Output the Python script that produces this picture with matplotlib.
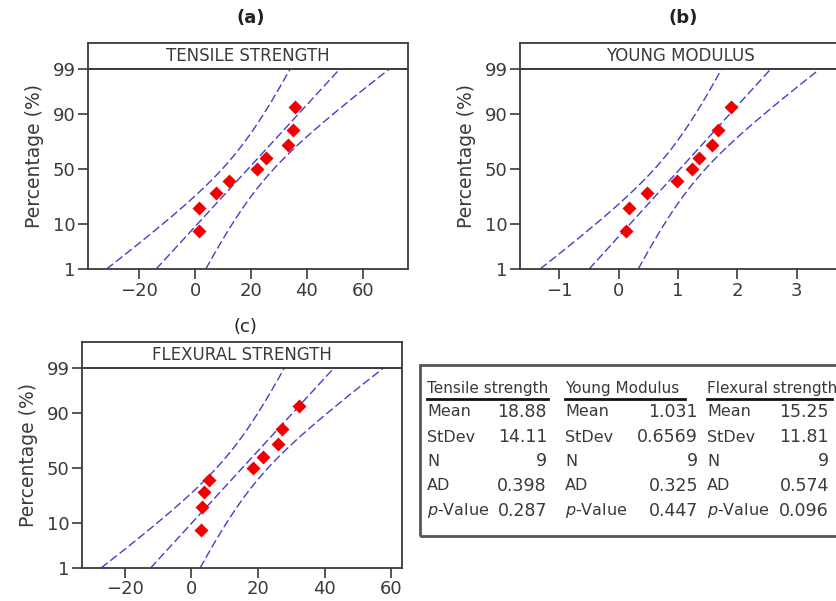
import numpy as np
import matplotlib.pyplot as plt
from matplotlib.patches import Rectangle
from matplotlib.lines import Line2D
from statistics import NormalDist

# median-rank plotting positions (%), shared by all three samples
pct = [7.4, 18.1, 28.7, 39.4, 50.0, 60.6, 71.3, 81.9, 92.6]

tensile = [1.4, 1.4, 7.5, 12.3, 22.0, 25.2, 33.2, 35.0, 35.7]
young = [0.12, 0.17, 0.48, 0.99, 1.23, 1.36, 1.58, 1.68, 1.90]
flexural = [3.0, 3.1, 3.7, 5.3, 18.4, 21.5, 26.0, 27.3, 32.2]

panel_tags = ["(a)", "(b)", "(c)"]
headers = ["TENSILE STRENGTH", "YOUNG MODULUS", "FLEXURAL STRENGTH"]
x_ticks = [[-20, 0, 20, 40, 60], [-1, 0, 1, 2, 3], [-20, 0, 20, 40, 60]]
y_ticks = [1, 10, 50, 90, 99]

# summary table
tbl_titles = ["Tensile strength", "Young Modulus", "Flexural strength"]
tbl_rows = ["Mean", "StDev", "N", "AD", "$\\it{p}$-Value"]
means = [18.88, 1.031, 15.25]
stdevs = [14.11, 0.6569, 11.81]
counts = [9, 9, 9]
ad_vals = [0.398, 0.325, 0.574]
p_vals = [0.287, 0.447, 0.096]
tbl_text = [
    ["18.88", "14.11", "9", "0.398", "0.287"],
    ["1.031", "0.6569", "9", "0.325", "0.447"],
    ["15.25", "11.81", "9", "0.574", "0.096"],
]

W, H = 836, 601
nd = NormalDist()
z01, z99 = nd.inv_cdf(0.01), nd.inv_cdf(0.99)
z_top = z99 + 0.61

fig = plt.figure(figsize=(W / 100, H / 100), dpi=100)
ink = "#3a3a3a"


def box(left, right, top, bottom):
    return [left / W, 1 - bottom / H, (right - left) / W, (bottom - top) / H]


# axes boxes in pixels: left, right, top, bottom
boxes = [(88, 408, 43, 269), (520, 840, 43, 269), (82, 402, 342, 568)]
xlims = [(-38.35, 76.2), (-1.663, 3.73), (-32.8, 63.2)]
tag_y = [18, 18, 327]
samples = [tensile, young, flexural]

for i in range(3):
    ax = fig.add_axes(box(*boxes[i]))
    ax.set_xlim(*xlims[i])
    ax.set_ylim(z01, z_top)

    # fitted line and 95% confidence band from mean / stdev / n
    z = np.linspace(z01, z99, 200)
    fit = means[i] + stdevs[i] * z
    half = 1.96 * stdevs[i] * np.sqrt(1 / counts[i] + z ** 2 / (2 * counts[i]))
    for curve in (fit - half, fit, fit + half):
        ax.plot(curve, z, color="#4040cc", lw=1.0, dashes=(6, 2.5), zorder=2)

    zp = [nd.inv_cdf(p / 100) for p in pct]
    ax.plot(samples[i], zp, "D", color="#f00000", ms=7, mec="none", zorder=3)

    ax.axhline(z99, color=ink, lw=1.4, zorder=4)
    ax.text(0.5, (z99 + z_top) / 2, headers[i], transform=ax.get_yaxis_transform(),
            ha="center", va="center", fontsize=12, color=ink)

    ax.set_yticks([nd.inv_cdf(v / 100) for v in y_ticks])
    ax.set_yticklabels([str(v) for v in y_ticks])
    ax.set_xticks(x_ticks[i])
    ax.set_xticklabels([str(v).replace("-", "\u2212") for v in x_ticks[i]])
    ax.tick_params(labelsize=13, colors=ink, length=7, width=1.2, pad=2)
    ax.set_ylabel("Percentage (%)", fontsize=13.5, color=ink, labelpad=6)
    for s in ax.spines.values():
        s.set_color(ink)
        s.set_linewidth(1.3)

    l, r, t, b = boxes[i]
    fig.text((l + r) / 2 / W + 3 / W, 1 - tag_y[i] / H, panel_tags[i], ha="center", va="center",
             fontsize=13, fontweight="bold" if i < 2 else "normal", color="#222222")

# statistics table
fig.add_artist(Rectangle((420 / W, 1 - 536 / H), 430 / W, 171 / H, transform=fig.transFigure,
                         fill=False, ec="#555555", lw=2.0))
title_x = [427, 565, 707]
value_x = [547, 698, 829]
row_y = [412, 437, 461, 486, 511]
for c in range(3):
    fig.text(title_x[c] / W, 1 - 389 / H, tbl_titles[c], ha="left", va="center",
             fontsize=11, color=ink)
    ulen = [121, 120, 125][c]
    fig.add_artist(Line2D([title_x[c] / W, (title_x[c] + ulen) / W], [1 - 399 / H] * 2,
                          transform=fig.transFigure, color="#111111", lw=2.0))
    for r in range(5):
        fig.text(title_x[c] / W, 1 - row_y[r] / H, tbl_rows[r], ha="left", va="center",
                 fontsize=11.5, color=ink)
        fig.text(value_x[c] / W, 1 - row_y[r] / H, tbl_text[c][r], ha="right", va="center",
                 fontsize=12.5, color=ink)

fig.savefig("out.png", dpi=100)
